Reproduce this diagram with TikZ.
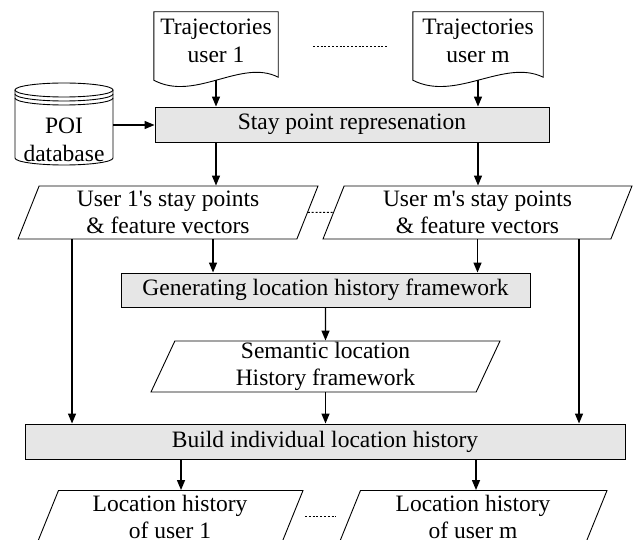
\documentclass[tikz,border=0pt]{standalone}
\usepackage{fontspec}
\setmainfont{Liberation Serif}
\usetikzlibrary{shapes.geometric,arrows.meta}
\definecolor{boxgray}{HTML}{E6E6E6}
\begin{document}
\begin{tikzpicture}[x=1pt,y=-1pt,
  every node/.style={font=\fontsize{23.5}{27.5}\selectfont, align=center, inner sep=0pt},
  shp/.style={draw=black, line width=0.9pt},
  procbox/.style={shp, fill=boxgray, rectangle, minimum height=35pt},
  para/.style={shp, trapezium, trapezium left angle=64, trapezium right angle=116,
               trapezium stretches body, minimum height=53pt},
  arr/.style={line width=1.3pt, -{Triangle[length=10pt,width=8pt]}},
  dots/.style={line width=1pt, dash pattern=on 2pt off 1.8pt}]
\useasboundingbox (0,0) rectangle (633,540);
\clip (0,0) rectangle (633,540);

% documents
\node[minimum width=124pt, minimum height=58pt] (d1) at (216,41) {Trajectories\\user 1};
\node[minimum width=130pt, minimum height=58pt] (dm) at (478,41) {Trajectories\\user m};
\draw[shp] ([yshift=-10pt]d1.south west) -- (d1.north west) -- (d1.north east)
  -- ([yshift=-7pt]d1.south east)
  .. controls ([xshift=-37pt,yshift=12pt]d1.south east) and ([xshift=41pt,yshift=-32pt]d1.south west)
  .. ([yshift=-10pt]d1.south west) -- cycle;
\draw[shp] ([yshift=-10pt]dm.south west) -- (dm.north west) -- (dm.north east)
  -- ([yshift=-7pt]dm.south east)
  .. controls ([xshift=-39pt,yshift=12pt]dm.south east) and ([xshift=43pt,yshift=-32pt]dm.south west)
  .. ([yshift=-10pt]dm.south west) -- cycle;
\coordinate (dtA) at (313,47);
\coordinate (dtB) at (388,47);
\draw[dots] (dtA) -- (dtB);

% POI database
\draw[shp] (64,90) ellipse [x radius=49pt, y radius=7pt];
\draw[shp] (15,94) arc [start angle=180, end angle=360, x radius=49pt, y radius=7pt];
\draw[shp] (15,98) arc [start angle=180, end angle=360, x radius=49pt, y radius=7pt];
\draw[shp] (15,90) -- (15,158) arc [start angle=180, end angle=360, x radius=49pt, y radius=7pt] -- (113,90);
\node (poi) at (64,140) {POI\\database};
\coordinate (poiR) at (113,125);

% process boxes
\node[procbox, minimum width=394pt] (stay) at (352,124.5) {Stay point represenation};
\node[procbox, minimum width=409pt, minimum height=34pt] (gen) at (325.5,290) {Generating location history framework};
\node[procbox, minimum width=600pt] (build) at (325,441.5) {Build individual location history};

% parallelograms
\node[para, minimum width=300pt] (p1) at (168,212.5) {User 1\textquotesingle s stay points\\\& feature vectors};
\node[para, minimum width=309pt] (pm) at (477.5,212.5) {User m\textquotesingle s stay points\\\& feature vectors};
\node[para, minimum width=349pt, minimum height=51pt] (sem) at (325.5,366.5) {Semantic location\\History framework};
\node[para, minimum width=266pt] (bp1) at (170,517) {Location history\\of user 1};
\node[para, minimum width=268pt] (bpm) at (473,517) {Location history\\of user m};

\draw[dots] (p1.east) -- (pm.west);
\coordinate (dbA) at (305,517);
\coordinate (dbB) at (336,517);
\draw[dots] (dbA) -- (dbB);

% arrows
\draw[arr] ([yshift=-10pt]d1.south) -- (d1.south |- stay.north);
\draw[arr] ([yshift=-10pt]dm.south) -- (dm.south |- stay.north);
\draw[arr] (poiR) -- (poiR -| stay.west);
\draw[arr] (d1.south |- stay.south) -- (d1.south |- p1.north);
\draw[arr] (dm.south |- stay.south) -- (dm.south |- pm.north);
\draw[arr] ([xshift=45pt]p1.south) -- ([xshift=45pt]p1.south |- gen.north);
\draw[arr] (pm.south) -- (pm.south |- gen.north);
\draw[arr] (gen.south) -- (sem.north);
\draw[arr] (sem.south) -- (sem.south |- build.north);
\draw[arr] ([xshift=-96pt]p1.south) -- ([xshift=-96pt]p1.south |- build.north);
\draw[arr] ([xshift=101.5pt]pm.south) -- ([xshift=101.5pt]pm.south |- build.north);
\draw[arr] ([xshift=11pt]bp1.north |- build.south) -- ([xshift=11pt]bp1.north);
\draw[arr] ([xshift=3pt]bpm.north |- build.south) -- ([xshift=3pt]bpm.north);
\end{tikzpicture}
\end{document}
